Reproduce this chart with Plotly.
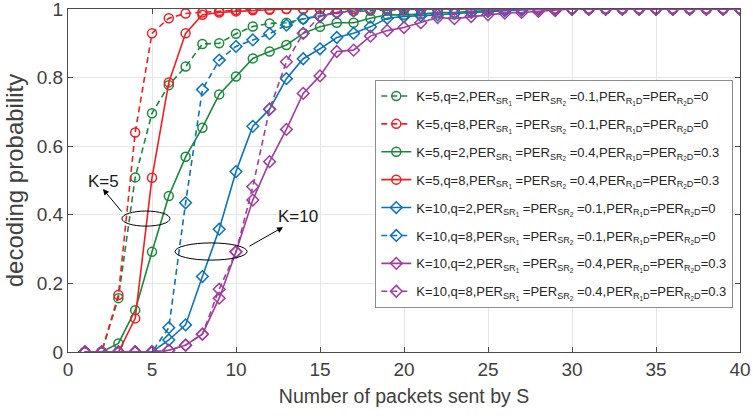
import plotly.graph_objects as go

x = list(range(1, 41))

def pad(vals, n=40):
    return vals + [1.0] * (n - len(vals))

# K=5
green_dash = pad([0, 0, 0.157, 0.509, 0.696, 0.778, 0.832, 0.898, 0.90, 0.928, 0.949, 0.958, 0.96, 0.971,
                  0.979, 0.99, 0.993, 0.995, 0.997])
red_dash = pad([0, 0, 0.166, 0.64, 0.929, 0.973, 0.987, 0.99, 0.994, 0.997])
green_solid = pad([0, 0, 0.025, 0.122, 0.292, 0.455, 0.569, 0.654, 0.751, 0.803, 0.856, 0.876, 0.895,
                   0.929, 0.948, 0.96, 0.96, 0.973, 0.983, 0.983, 0.985, 0.99, 0.99, 0.993, 0.995, 0.997])
red_solid = pad([0, 0, 0, 0.098, 0.508, 0.786, 0.929, 0.983, 0.99, 0.993, 0.996, 0.998])
# K=10
blue_solid = pad([0, 0, 0, 0, 0, 0.035, 0.079, 0.22, 0.358, 0.526, 0.658, 0.708, 0.797, 0.855, 0.884,
                  0.917, 0.929, 0.948, 0.973, 0.978, 0.98, 0.983, 0.987, 0.99, 0.993, 0.995, 0.997])
blue_dash = pad([0, 0, 0, 0, 0, 0.071, 0.435, 0.765, 0.851, 0.891, 0.91, 0.928, 0.953, 0.972, 0.98,
                 0.99, 0.995])
purple_solid = pad([0, 0, 0, 0, 0, 0.005, 0.02, 0.052, 0.157, 0.292, 0.443, 0.555, 0.649, 0.754, 0.805,
                    0.876, 0.88, 0.921, 0.937, 0.946, 0.96, 0.975, 0.972, 0.978, 0.983, 0.988, 0.99,
                    0.993, 0.995])
purple_dash = pad([0, 0, 0, 0, 0, 0.005, 0.02, 0.052, 0.183, 0.292, 0.482, 0.708, 0.846, 0.929, 0.978,
                   0.99, 0.995])

y_ticks = [0, 0.2, 0.4, 0.6, 0.8, 1]
y_ticktext = ["0", "0.2", "0.4", "0.6", "0.8", "1"]

S1 = "PER<sub>SR<sub>1</sub></sub> "
S2 = "PER<sub>SR<sub>2</sub></sub> "
R1 = "PER<sub>R<sub>1</sub>D</sub>"
R2 = "PER<sub>R<sub>2</sub>D</sub>"

def name(k, q, a, b):
    return f"K={k},q={q},{S1}={S2}={a},{R1}={R2}={b}"

GREEN = "#178a3b"
RED = "#f01e23"
BLUE = "#0b72bf"
PURPLE = "#a23c9f"
DASH = "6px,4px"

series = [
    (green_dash, name(5, 2, 0.1, 0), GREEN, DASH, "circle-open"),
    (red_dash, name(5, 8, 0.1, 0), RED, DASH, "circle-open"),
    (green_solid, name(5, 2, 0.4, 0.3), GREEN, "solid", "circle-open"),
    (red_solid, name(5, 8, 0.4, 0.3), RED, "solid", "circle-open"),
    (blue_solid, name(10, 2, 0.1, 0), BLUE, "solid", "diamond-open"),
    (blue_dash, name(10, 8, 0.1, 0), BLUE, DASH, "diamond-open"),
    (purple_solid, name(10, 2, 0.4, 0.3), PURPLE, "solid", "diamond-open"),
    (purple_dash, name(10, 8, 0.4, 0.3), PURPLE, DASH, "diamond-open"),
]

fig = go.Figure()
for i, (ys, nm, col, dash, sym) in enumerate(series):
    fig.add_trace(go.Scatter(
        x=x, y=ys, name=nm, mode="lines+markers", legendgroup=f"g{i}",
        line=dict(color=col, width=1.6, dash=dash),
        marker=dict(symbol=sym, size=9, color=col, line=dict(width=1.5, color=col)),
    ))

FONT = "Liberation Sans, Arial, sans-serif"
AXC = "#4d4d4d"
TXT = "#404040"

fig.update_layout(
    width=753, height=420,
    margin=dict(l=68, r=13, t=9, b=68, autoexpand=False),
    plot_bgcolor="white", paper_bgcolor="white",
    font=dict(family=FONT, color="#333333", size=18),
    showlegend=True,
    legend=dict(
        x=0.99, y=0.793, xanchor="right", yanchor="top",
        bgcolor="white", bordercolor="#8c8c8c", borderwidth=1,
        font=dict(family=FONT, size=13, color="#262626"),
        itemwidth=30, tracegroupgap=8,
    ),
    xaxis=dict(
        range=[0, 40], dtick=5, tick0=0,
        showgrid=True, gridcolor="#e6e6e6", gridwidth=1,
        showline=True, linecolor=AXC, linewidth=1, mirror="ticks",
        ticks="inside", ticklen=5, tickcolor=AXC,
        zeroline=False, ticklabeloverflow="allow",
        tickfont=dict(size=19, color=TXT),
        title=dict(text="Number of packets sent by S", font=dict(size=19.5, color=TXT), standoff=10),
    ),
    yaxis=dict(
        range=[0, 1], tickvals=y_ticks, ticktext=y_ticktext,
        showgrid=True, gridcolor="#e6e6e6", gridwidth=1,
        showline=True, linecolor=AXC, linewidth=1, mirror="ticks",
        ticks="inside", ticklen=5, tickcolor=AXC,
        zeroline=False, ticklabeloverflow="allow",
        tickfont=dict(size=19, color=TXT),
        title=dict(text="decoding probability", font=dict(size=24, color=TXT), standoff=6),
    ),
)

# ellipses
fig.add_shape(type="circle", xref="x", yref="y", x0=3.21, x1=6.07, y0=0.367, y1=0.411,
              line=dict(color="black", width=1))
fig.add_shape(type="circle", xref="x", yref="y", x0=6.37, x1=10.66, y0=0.268, y1=0.318,
              line=dict(color="black", width=1))

# arrows
fig.add_annotation(x=2.08, y=0.475, ax=3.27, ay=0.405, xref="x", yref="y", axref="x", ayref="y",
                   text="", showarrow=True, arrowhead=2, arrowsize=1.2, arrowwidth=1, arrowcolor="black")
fig.add_annotation(x=12.8, y=0.364, ax=10.71, ay=0.306, xref="x", yref="y", axref="x", ayref="y",
                   text="", showarrow=True, arrowhead=2, arrowsize=1.2, arrowwidth=1, arrowcolor="black")
fig.add_annotation(x=2.14, y=0.4985, xref="x", yref="y", text="K=5", showarrow=False,
                   font=dict(size=17, color="#1a1a1a"))
fig.add_annotation(x=13.69, y=0.394, xref="x", yref="y", text="K=10", showarrow=False,
                   font=dict(size=17, color="#1a1a1a"))

fig.write_html("out.html")
